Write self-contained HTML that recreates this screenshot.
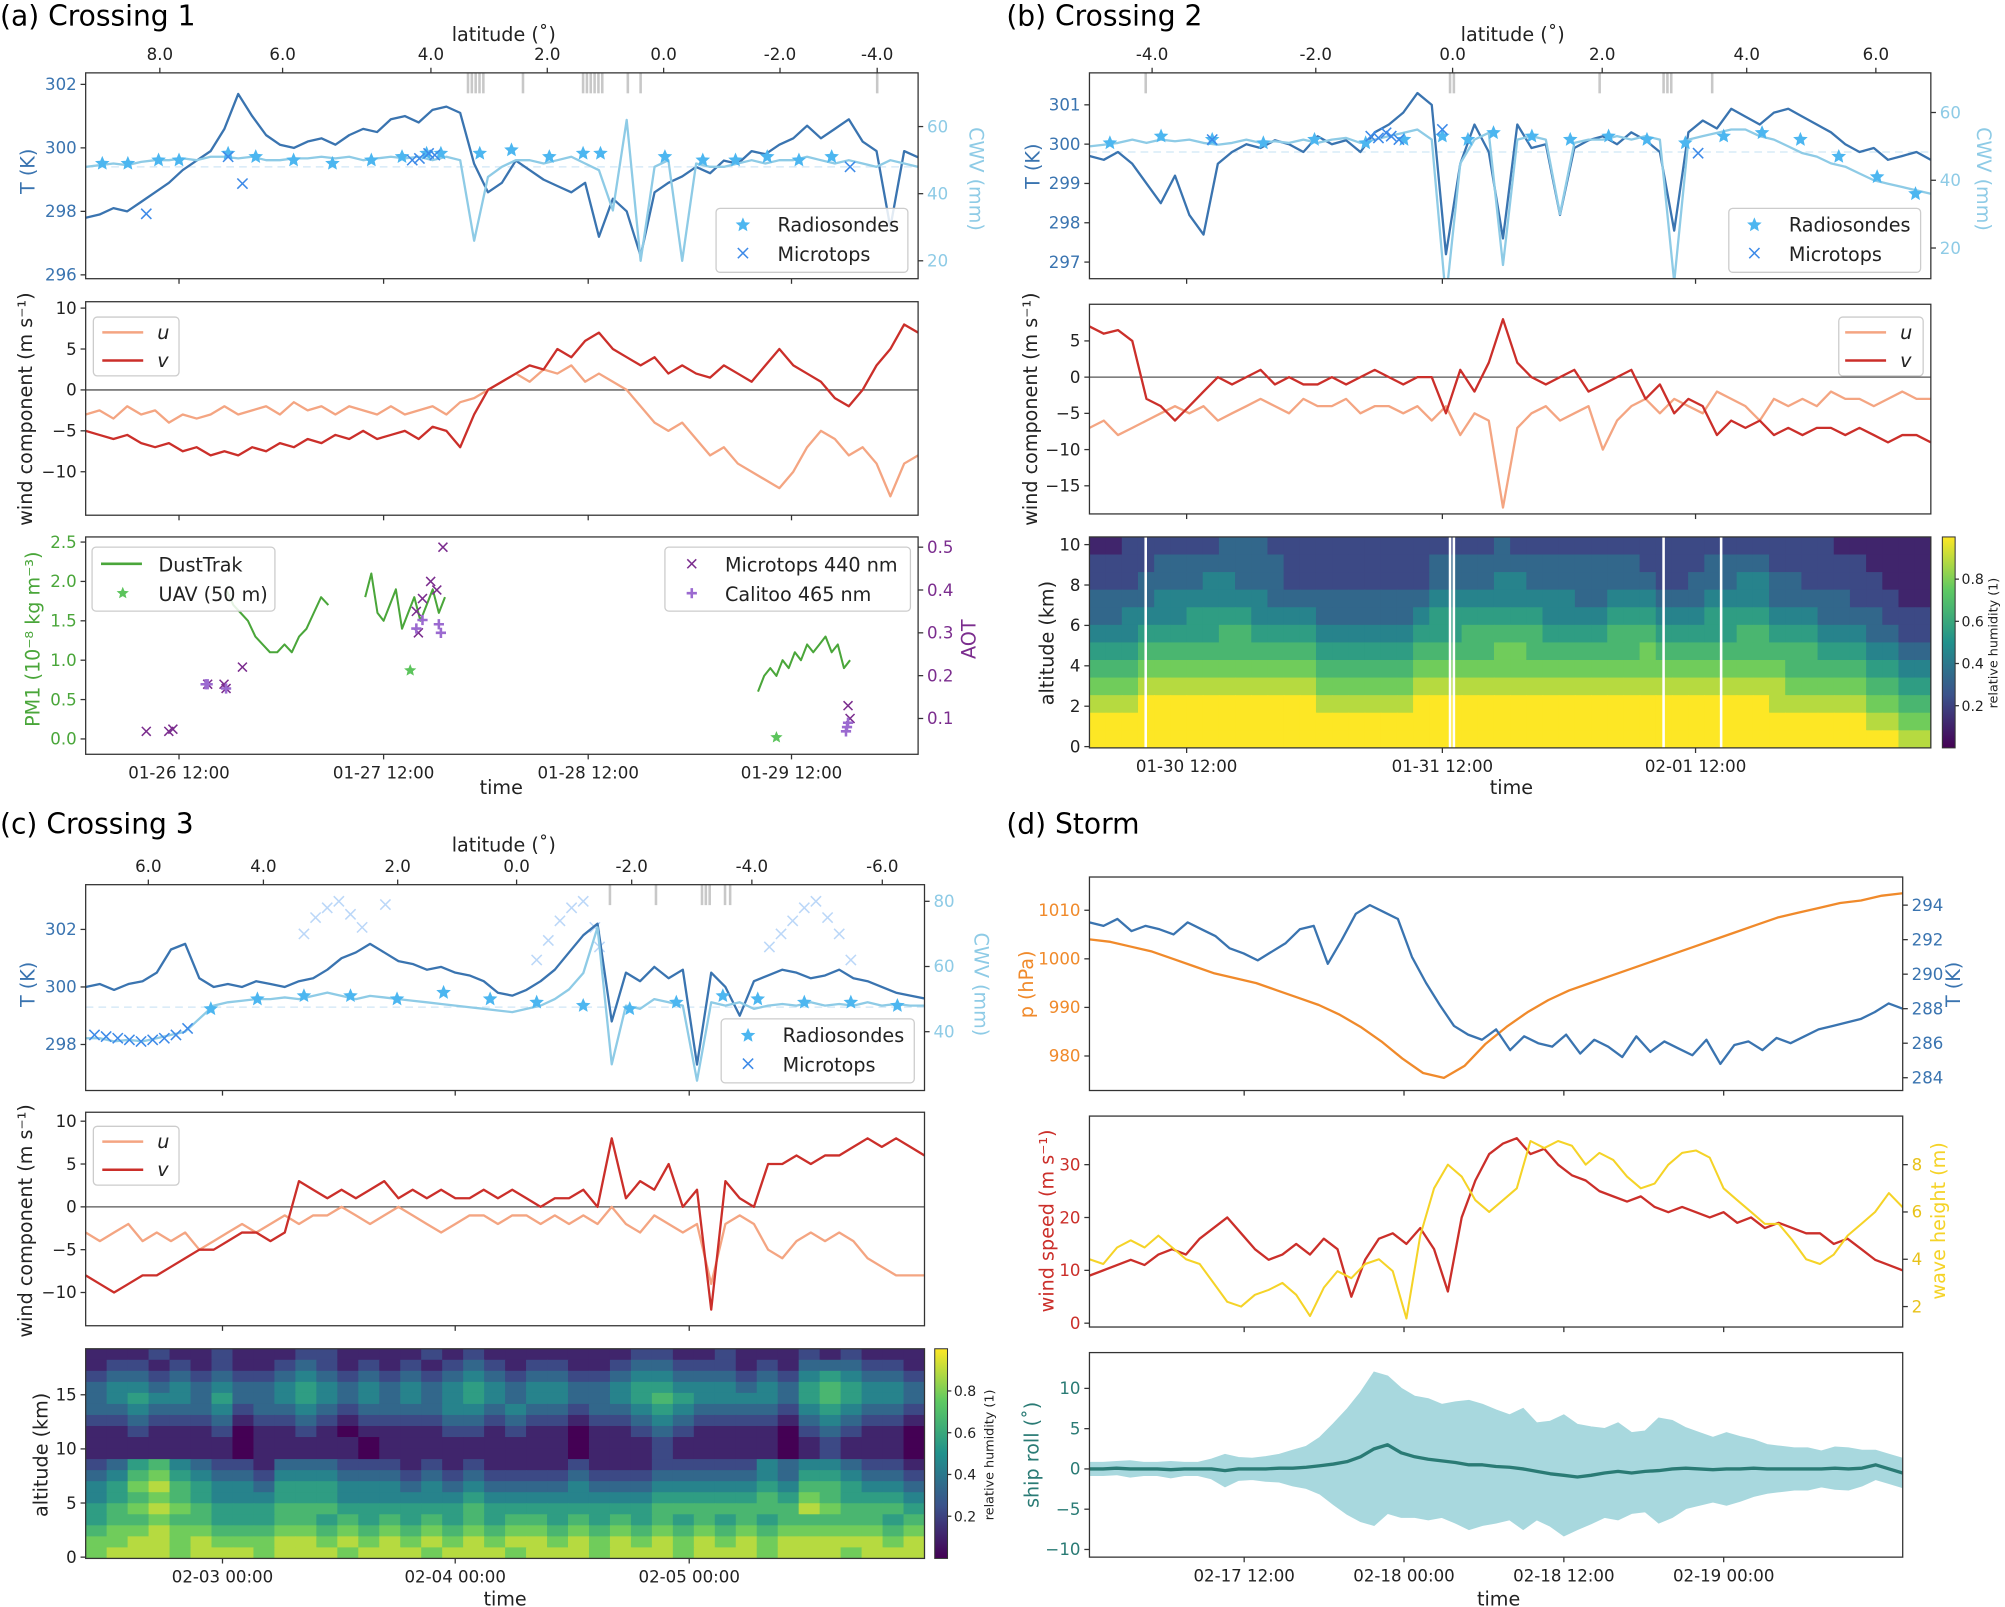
<!DOCTYPE html>
<html><head><meta charset="utf-8"><style>
html,body{margin:0;padding:0;background:#fff;}
svg{display:block;font-family:"DejaVu Sans","Liberation Sans",sans-serif;}
</style></head><body>
<svg id="fig" xmlns="http://www.w3.org/2000/svg" width="2005" height="1607" viewBox="0 0 1568 1257" preserveAspectRatio="none"></svg>
<script>
// ---------------- DATA ----------------
// Panel (a)
const aTemp=[297.8,297.9,298.1,298.0,298.3,298.6,298.9,299.3,299.6,299.9,300.6,301.7,301.0,300.4,300.1,300.0,300.2,300.3,300.1,300.4,300.6,300.5,300.9,301.0,300.8,301.2,301.3,301.1,299.5,298.6,298.9,299.6,299.3,299.0,298.8,298.6,298.9,297.2,298.4,298.0,296.6,298.6,298.9,299.1,299.4,299.2,299.6,299.5,299.9,299.8,300.1,300.3,300.7,300.3,300.6,300.9,300.2,299.9,297.5,299.9,299.7];
const aCwv=[48,48.5,49,48.5,49.5,50,50,50.5,50,51,51,50.5,51,50,50,50.5,50.5,51,50.5,51,50,50.5,51,50.5,51,50,51,50,26,45,48,50,50,49,50,51,49,47,35,62,20,48,50,20,49,48,48,49,50,49,50,50,51,50,49,50,49,48,50,49,48];
const aSondeT=[0.125,0.25,0.4,0.5,0.74,0.875,1.06,1.25,1.44,1.59,1.71,1.78,1.97,2.125,2.31,2.475,2.56,2.875,3.06,3.22,3.375,3.53,3.69];
const aSondeV=[49,49,50,50,52,51,50,49,50,51,52,52,52,53,51,52,52,51,50,50,51,50,51];
const aMtT=[0.34,0.81,0.74,1.64,1.675,1.72,1.75,3.78];
const aMtV=[34,43,51,50,50.5,52,51.5,48];
const aU=[-3,-2.5,-3.5,-2,-3,-2.5,-4,-3,-3.5,-3,-2,-3,-2.5,-2,-3,-1.5,-2.5,-2,-3,-2,-2.5,-3,-2,-3,-2.5,-2,-3,-1.5,-1,0,1,2,1,2.5,2,3,1,2,1,0,-2,-4,-5,-4,-6,-8,-7,-9,-10,-11,-12,-10,-7,-5,-6,-8,-7,-9,-13,-9,-8];
const aV=[-5,-5.5,-6,-5.5,-6.5,-7,-6.5,-7.5,-7,-8,-7.5,-8,-7,-7.5,-6.5,-7,-6,-6.5,-5.5,-6,-5,-6,-5.5,-5,-6,-4.5,-5,-7,-3,0,1,2,3,2.5,5,4,6,7,5,4,3,4,2,3,2,1.5,3,2,1,3,5,3,2,1,-1,-2,0,3,5,8,7];
const aPm1=[1.9,1.7,1.6,1.5,1.3,1.2,1.1,1.1,1.2,1.1,1.3,1.4,1.6,1.8,1.7];
const aPm2=[1.8,2.1,1.6,1.5,1.7,1.9,1.4,1.6,1.8,1.5,1.7,1.9,1.6,1.8];
const aPm3=[0.6,0.8,0.9,0.8,1.0,0.9,1.1,1.0,1.2,1.1,1.2,1.3,1.1,1.2,0.9,1.0];
const aUavT=[1.63,3.42];
const aUavV=[0.87,0.02];
const aAotT=[0.34,0.45,0.47,0.64,0.72,0.73,0.81,1.66,1.67,1.69,1.73,1.76,1.79,3.78,3.77];
const aAotV=[0.07,0.07,0.075,0.18,0.18,0.17,0.22,0.35,0.30,0.38,0.42,0.40,0.50,0.10,0.13];
const aCalT=[0.63,0.64,0.73,1.66,1.69,1.77,1.78,3.76,3.765,3.77];
const aCalV=[0.18,0.18,0.17,0.31,0.33,0.32,0.30,0.07,0.08,0.09];
// Panel (b)
const bTemp=[299.7,299.6,299.8,299.5,299.0,298.5,299.2,298.2,297.7,299.5,299.8,300.0,299.9,300.1,300.0,299.8,300.2,300.0,300.1,299.8,300.3,300.5,300.8,301.3,301.0,297.2,299.5,300.5,299.8,297.6,300.5,299.9,300.0,298.2,299.9,300.1,300.2,300.0,300.3,300.1,299.8,297.8,300.3,300.6,300.4,300.9,300.7,300.5,300.8,300.9,300.7,300.5,300.3,300.0,299.8,299.9,299.6,299.7,299.8,299.6];
const bCwv=[50,50.5,51,52,51,52,51.5,52,51,50.5,51,52,51,51.5,51,52,51,52,52.5,51,52,53,54,55,52,5,45,52,54,15,52,53,52,30,51,52,52,53,52,53,52,10,52,53,54,55,55,53,52,50,48,47,45,44,42,40,39,38,37,36];
const bSondeT=[0.2,0.4,0.6,0.8,1.0,1.2,1.35,1.5,1.6,1.7,1.85,2.0,2.15,2.3,2.45,2.6,2.75,2.9,3.05,3.2,3.35];
const bSondeV=[51,53,52,51,52,51,52,53,52,54,53,52,53,52,51,53,54,52,47,41,36];
const bMtT=[0.6,1.22,1.25,1.28,1.3,1.33,1.5,2.5];
const bMtV=[52,53,52.5,54,53,52,55,48];
const bU=[-7,-6,-8,-7,-6,-5,-4,-5,-4,-6,-5,-4,-3,-4,-5,-3,-4,-4,-3,-5,-4,-4,-5,-4,-6,-4,-8,-5,-6,-18,-7,-5,-4,-6,-5,-4,-10,-6,-4,-3,-5,-3,-4,-5,-2,-3,-4,-6,-3,-4,-3,-4,-2,-3,-3,-4,-3,-2,-3,-3];
const bV=[7,6,6.5,5,-3,-4,-6,-4,-2,0,-1,0,1,-1,0,-1,-1,0,-1,0,1,0,-1,0,0,-5,1,-2,2,8,2,0,-1,0,1,-2,-1,0,1,-3,-1,-5,-3,-4,-8,-6,-7,-6,-8,-7,-8,-7,-7,-8,-7,-8,-9,-8,-8,-9];
const bRh=[
"1122222233322222222222222322222222222222222222111111",
"2222333333332222222223333333333333222233332222221111",
"2223333443332222222223333443333333322333443322222111",
"3333444444433333333334444444443344433344443333322211",
"3344445555444433333345555555444455544455554443333222",
"4445555566555544444455566666555566655555665554443322",
"5556666666666655555566666776666666766666666665554433",
"6667777777777766666677777777777777777777777666665544",
"7778888888888877777788888888888888888888888777776655",
"8889999999999988888899999999999999999999998888887766",
"9999999999999999999999999999999999999999999999998877",
"9999999999999999999999999999999999999999999999999988"];
// Panel (c)
const cTemp=[300,300.1,299.9,300.1,300.2,300.5,301.3,301.5,300.3,300.0,300.1,300.0,300.2,300.1,300.0,300.2,300.3,300.6,301.0,301.2,301.5,301.2,300.9,300.8,300.6,300.7,300.5,300.4,300.2,299.8,299.7,299.9,300.2,300.6,301.2,301.8,302.2,298.8,300.5,300.2,300.7,300.3,300.6,297.3,300.5,300.0,299.0,300.2,300.4,300.6,300.5,300.3,300.4,300.6,300.3,300.2,300.0,299.8,299.7,299.6];
const cCwv=[38,38,37,37.5,37,38,39,40,44,48,49,49.5,50,50,50.5,50,51,52,51,50,51,50.5,50,49.5,49,48.5,48,47.5,47,46.5,46,47,48,50,53,58,72,30,48,47,50,49,48,25,49,48,49,47,48,48.5,48,49,48,48.5,48,49,48,48.5,48,48];
const cSondeT=[-0.05,0.15,0.35,0.55,0.75,0.95,1.15,1.35,1.55,1.75,1.95,2.15,2.3,2.5,2.7,2.9];
const cSondeV=[47,50,51,51,50,52,50,49,48,47,49,51,50,49,49,48];
const cMtT=[-0.55,-0.5,-0.45,-0.4,-0.35,-0.3,-0.25,-0.2,-0.15];
const cMtV=[39,38.5,38,37.5,37,37.5,38,39,41];
const cMtFadeT=[0.35,0.4,0.45,0.5,0.55,0.6,0.7,1.35,1.4,1.45,1.5,1.55,1.6,1.62,2.35,2.4,2.45,2.5,2.55,2.6,2.65,2.7];
const cMtFadeV=[70,75,78,80,76,72,79,62,68,74,78,80,72,66,66,70,74,78,80,75,70,62];
const cU=[-3,-4,-3,-2,-4,-3,-4,-3,-5,-4,-3,-2,-3,-2,-1,-2,-1,-1,0,-1,-2,-1,0,-1,-2,-3,-2,-1,-1,-2,-1,-1,-2,-1,-2,-1,-2,0,-2,-3,-1,-2,-3,-2,-9,-2,-1,-2,-5,-6,-4,-3,-4,-3,-4,-6,-7,-8,-8,-8];
const cV=[-8,-9,-10,-9,-8,-8,-7,-6,-5,-5,-4,-3,-3,-4,-3,3,2,1,2,1,2,3,1,2,1,2,1,1,2,1,2,1,0,1,1,2,0,8,1,3,2,5,0,2,-12,3,1,0,5,5,6,5,6,6,7,8,7,8,7,6];
const cRh=[
"1112112111221111212111111122112111212111",
"1221212112321212123212211233222121333221",
"2332323223432323234323322344333232454332",
"3443434334543434345434433455444343565443",
"3454435334543434345434433456544443565443",
"3343334233432333344343323345433332454332",
"2232223122321222233232212234322221343221",
"1121112011210111122121101123211110232110",
"1111111011111011111111101112111110121110",
"1111111011111011111111101112111110121110",
"2356432213332221212111121112222243443221",
"3467543324443332323222232223333343554332",
"4578654435554443434333343334444454665443",
"4567654445554444445444444445555565765554",
"5678765556665555556555555556666666876665",
"5667665556656565656566565656565656666656",
"6778776667767676767677676767676767777767",
"7788787778878787878788787878787878888878",
"7888788878887888788878887888788878887888"];
// Panel (d)
const dP=[1004,1003.5,1002.5,1001.5,1000,998.5,997,996,995,993.5,992,990.5,988.5,986,983,979.5,976.5,975.5,978,982.5,986,989,991.5,993.5,995,996.5,998,999.5,1001,1002.5,1004,1005.5,1007,1008.5,1009.5,1010.5,1011.5,1012,1013,1013.5];
const dT=[293,292.8,293.2,292.5,292.8,292.6,292.3,293,292.6,292.2,291.5,291.2,290.8,291.3,291.8,292.6,292.8,290.6,292,293.5,294,293.6,293.2,291,289.5,288.2,287,286.5,286.2,286.8,285.6,286.4,286,285.8,286.5,285.4,286.2,285.8,285.2,286.4,285.5,286.1,285.7,285.3,286.2,284.8,285.9,286.1,285.6,286.3,286,286.4,286.8,287,287.2,287.4,287.8,288.3,288];
const dWind=[9,10,11,12,11,13,14,13,16,18,20,17,14,12,13,15,13,16,14,5,12,16,17,15,18,14,6,20,27,32,34,35,32,33,30,28,27,25,24,23,24,22,21,22,21,20,21,19,20,18,19,18,17,17,15,16,14,12,11,10];
const dWave=[4,3.8,4.5,4.8,4.5,5,4.5,4,3.8,3,2.2,2,2.5,2.7,3,2.5,1.6,2.8,3.5,3.2,3.8,4,3.5,1.5,5,7,8,7.5,6.5,6,6.5,7,9,8.7,9,8.8,8,8.5,8.2,7.5,7,7.2,8,8.5,8.6,8.3,7,6.5,6,5.5,5.5,4.8,4,3.8,4.2,5,5.5,6,6.8,6.2];
const dRollMean=[0,0,0.1,0,0,0,-0.1,0,0,0,-0.2,0,0,0,0.1,0.1,0.2,0.4,0.6,0.9,1.5,2.5,3,2,1.5,1.2,1,0.8,0.5,0.5,0.3,0.2,0,-0.3,-0.6,-0.8,-1,-0.8,-0.5,-0.3,-0.5,-0.3,-0.2,0,0.1,0,-0.1,0,0,0.1,0,0,0,0,0,0.1,0,0.1,0.5,0,-0.5];
const dRollAmp=[0.8,0.8,0.8,1,0.8,0.8,1,0.8,0.8,1.2,2,1.4,1.3,1.5,1.7,2.2,2.6,3.5,5,6.5,8,9.5,8.5,8,7.5,7.5,7,7.5,8,7.5,7,6.5,7.5,6,6.5,7.5,6.5,6,5.5,6,5,5,6.5,6,5,4.5,4,4.5,4,3.5,3,2.8,2.6,2.6,2.2,2.6,2.6,2.2,1.8,1.8,1.8];

// ---------------- DRAWING ----------------
const NS='http://www.w3.org/2000/svg';
const svg=document.getElementById('fig');
function mk(tag,attrs,name,parent){
  const e=document.createElementNS(NS,tag);
  for(const k in attrs) e.setAttribute(k,attrs[k]);
  
  
  (parent||svg).appendChild(e);
  return e;
}
function txt(x,y,s,name,o){
  o=o||{};
  const a={x:x,y:y,'font-size':o.fs||13,fill:o.fill||'#222','text-anchor':o.anchor||'middle'};
  if(o.rot!==undefined) a.transform='rotate('+o.rot+' '+x+' '+y+')';
  if(o.style) a['font-style']=o.style;
  const t=mk('text',a,name);
  t.textContent=s;
  return t;
}
function lin(v0,p0,v1,p1){return v=>p0+(v-v0)*(p1-p0)/(v1-v0);}
let clipN=0;
function clip(b){
  const id='c'+(clipN++);
  const cp=mk('clipPath',{id:id},'clip');
  mk('rect',{x:b.x0,y:b.y0,width:b.x1-b.x0,height:b.y1-b.y0},'clip-rect',cp);
  return mk('g',{'clip-path':'url(#'+id+')'},'plot-area');
}
function frame(b,name){mk('rect',{x:b.x0,y:b.y0,width:b.x1-b.x0,height:b.y1-b.y0,fill:'none',stroke:'#333','stroke-width':1},name);}
function yTicks(b,sc,vals,labels,side,color,name){
  vals.forEach((v,i)=>{
    const y=sc(v);
    const x=side==='l'?b.x0:b.x1;
    const d=side==='l'?-4:4;
    mk('line',{x1:x,x2:x+d,y1:y,y2:y,stroke:'#333'},name+'-tick');
    txt(x+(side==='l'?-7:7),y+4.5,labels[i],name+'-label',{fill:color,anchor:side==='l'?'end':'start'});
  });
}
function xTicks(b,xs,labels,name,top){
  xs.forEach((x,i)=>{
    const y=top?b.y0:b.y1;
    mk('line',{x1:x,x2:x,y1:y,y2:y+(top?-4:4),stroke:'#333'},name+'-tick');
    if(labels[i]!=='') txt(x,top?y-10:y+19,labels[i],name+'-label');
  });
}
function series(g,vals,xa,xb,sc,color,w,name){
  const n=vals.length;
  const pts=vals.map((v,i)=>(xa+i*(xb-xa)/(n-1)).toFixed(1)+','+sc(v).toFixed(1)).join(' ');
  mk('polyline',{points:pts,fill:'none',stroke:color,'stroke-width':w,'stroke-linejoin':'round'},name,g);
}
function star(g,x,y,r,color,name){
  let p=[];
  for(let k=0;k<10;k++){const a=-Math.PI/2+k*Math.PI/5;const rr=k%2?r*0.45:r;p.push((x+rr*Math.cos(a)).toFixed(1)+','+(y+rr*Math.sin(a)).toFixed(1));}
  mk('polygon',{points:p.join(' '),fill:color},name,g);
}
function cross(g,x,y,r,color,name,op){
  mk('path',{d:`M${x-r},${y-r}L${x+r},${y+r}M${x-r},${y+r}L${x+r},${y-r}`,stroke:color,'stroke-width':1.2,opacity:op||1},name,g);
}
function plus(g,x,y,r,color,name){
  mk('path',{d:`M${x-r},${y}L${x+r},${y}M${x},${y-r}L${x},${y+r}`,stroke:color,'stroke-width':2},name,g);
}
function legendBox(x,y,w,h,name){mk('rect',{x:x,y:y,width:w,height:h,rx:3,fill:'#fff','fill-opacity':0.85,stroke:'#ccc'},name);}
const stops=[[0,[68,1,84]],[0.25,[59,82,139]],[0.5,[33,145,140]],[0.75,[94,201,98]],[1,[253,231,37]]];
function viridis(v){
  for(let i=1;i<stops.length;i++){if(v<=stops[i][0]){const a=stops[i-1],b=stops[i];const f=(v-a[0])/(b[0]-a[0]);return 'rgb('+a[1].map((c,j)=>Math.round(c+(b[1][j]-c)*f)).join(',')+')';}}
  return 'rgb(253,231,37)';
}
const defs=mk('defs',{},'defs');
const lg=mk('linearGradient',{id:'vir',x1:0,y1:1,x2:0,y2:0},'viridis-gradient',defs);
stops.forEach(s=>mk('stop',{offset:s[0],'stop-color':'rgb('+s[1].join(',')+')'},'gradient-stop',lg));
function heat(b,rows,name){
  const g=clip(b);
  const nr=rows.length,nc=rows[0].length;
  const cw=(b.x1-b.x0)/nc,ch=(b.y1-b.y0)/nr;
  rows.forEach((r,ri)=>{for(let ci=0;ci<nc;ci++){
    mk('rect',{x:(b.x0+ci*cw).toFixed(2),y:(b.y0+ri*ch).toFixed(2),width:(cw+0.6).toFixed(2),height:(ch+0.6).toFixed(2),fill:viridis(+r[ci]/9)},name+'-cell',g);
  }});
  return g;
}
function colorbar(x,y0,y1,sc,name,lx,ly){
  mk('rect',{x:x,y:y0,width:10,height:y1-y0,fill:'url(#vir)',stroke:'#333','stroke-width':0.8},name);
  [0.2,0.4,0.6,0.8].forEach(v=>{const y=sc(v);mk('line',{x1:x+10,x2:x+13,y1:y,y2:y,stroke:'#333'},name+'-tick');txt(x+15,y+4,v.toFixed(1),name+'-label',{fs:11,anchor:'start'});});
  txt(lx,ly,'relative humidity (1)',name+'-title',{fs:10,rot:-90});
}
const CT='#3a74b0',CC='#8ecbe6',CS='#4cb6f0',CX='#3d8ae8',CU='#f4a582',CV='#cb2f2a';

// ===== Panel (a) =====
txt(0,20,'(a) Crossing 1','panel-a-title',{fs:22,anchor:'start',fill:'#000'});
const A1={x0:67,x1:718,y0:57,y1:218};
const aTa=lin(296,215,302,66),aCa=lin(20,204,60,99);
const aTime=t=>140+(t-0.5)*160;
txt(394,32,'latitude (˚)','panel-a-lat-title',{fs:15});
xTicks(A1,[125,221,337,428,519,610,686],['8.0','6.0','4.0','2.0','0.0','-2.0','-4.0'],'panel-a-lat',true);
let g=clip(A1);
[365,368,371,374,377,408,455,458,461,464,467,470,490,500,685].forEach(x=>mk('rect',{x:x,y:57,width:2,height:16,fill:'#c8c8c8'},'gap-marker',g));
mk('line',{x1:67,x2:718,y1:aTa(299.4),y2:aTa(299.4),stroke:'#cfe6f5','stroke-dasharray':'6,4'},'mean-line',g);
series(g,aTemp,A1.x0,A1.x1,aTa,CT,1.8,'temperature-line');
series(g,aCwv,A1.x0,A1.x1,aCa,CC,1.8,'cwv-line');
aSondeT.forEach((t,i)=>star(g,aTime(t),aCa(aSondeV[i]),6,CS,'radiosonde-marker'));
aMtT.forEach((t,i)=>cross(g,aTime(t),aCa(aMtV[i]),4,CX,'microtops-marker'));
frame(A1,'panel-a-top-frame');
yTicks(A1,aTa,[296,298,300,302],['296','298','300','302'],'l',CT,'temp-axis');
yTicks(A1,aCa,[20,40,60],['20','40','60'],'r',CC,'cwv-axis');
xTicks(A1,[140,300,460,619],['','','',''],'panel-a-top-time',false);
txt(27,134,'T (K)','temp-axis-title',{fs:15,rot:-90,fill:CT});
txt(758,140,'CWV (mm)','cwv-axis-title',{fs:15,rot:90,fill:CC});
legendBox(560,163,150,50,'legend-a-top');
star(svg,581,176,6,CS,'legend-radiosonde-marker');txt(608,181,'Radiosondes','legend-radiosondes-label',{fs:15,anchor:'start'});
cross(svg,581,198,4,CX,'legend-microtops-marker');txt(608,204,'Microtops','legend-microtops-label',{fs:15,anchor:'start'});

const A2={x0:67,x1:718,y0:236,y1:403};
const aW=lin(0,305,10,241);
g=clip(A2);
mk('line',{x1:67,x2:718,y1:aW(0),y2:aW(0),stroke:'#555','stroke-width':1},'zero-line',g);
series(g,aU,A2.x0,A2.x1,aW,CU,1.8,'u-line');
series(g,aV,A2.x0,A2.x1,aW,CV,1.8,'v-line');
frame(A2,'panel-a-mid-frame');
yTicks(A2,aW,[-10,-5,0,5,10],['−10','−5','0','5','10'],'l','#222','wind-axis');
xTicks(A2,[140,300,460,619],['','','',''],'panel-a-mid-time',false);
txt(25,320,'wind component (m s⁻¹)','wind-axis-title',{fs:15,rot:-90});
legendBox(73,248,67,46,'legend-a-wind');
mk('line',{x1:80,x2:112,y1:260,y2:260,stroke:CU,'stroke-width':2},'legend-u-line');txt(123,265,'u','legend-u-label',{fs:15,anchor:'start',style:'italic'});
mk('line',{x1:80,x2:112,y1:282,y2:282,stroke:CV,'stroke-width':2},'legend-v-line');txt(123,287,'v','legend-v-label',{fs:15,anchor:'start',style:'italic'});

const A3={x0:67,x1:718,y0:420,y1:590};
const aPm=lin(0,578,2.5,424),aAot=lin(0.1,562,0.5,428);
g=clip(A3);
const CG='#4aa63a',CPu='#7b2d8e',CPl='#9b6ad0';
series(g,aPm1,aTime(0.73),aTime(1.23),aPm,CG,1.6,'dusttrak-line');
series(g,aPm2,aTime(1.41),aTime(1.8),aPm,CG,1.6,'dusttrak-line');
series(g,aPm3,aTime(3.33),aTime(3.78),aPm,CG,1.6,'dusttrak-line');
aUavT.forEach((t,i)=>star(g,aTime(t),aPm(aUavV[i]),5,'#5cc45c','uav-marker'));
aAotT.forEach((t,i)=>cross(g,aTime(t),aAot(aAotV[i]),3.5,CPu,'microtops-aot-marker'));
aCalT.forEach((t,i)=>plus(g,aTime(t),aAot(aCalV[i]),4,CPl,'calitoo-marker'));
frame(A3,'panel-a-bottom-frame');
yTicks(A3,aPm,[0,0.5,1,1.5,2,2.5],['0.0','0.5','1.0','1.5','2.0','2.5'],'l',CG,'pm1-axis');
yTicks(A3,aAot,[0.1,0.2,0.3,0.4,0.5],['0.1','0.2','0.3','0.4','0.5'],'r',CPu,'aot-axis');
xTicks(A3,[140,300,460,619],['01-26 12:00','01-27 12:00','01-28 12:00','01-29 12:00'],'panel-a-time',false);
txt(392,621,'time','panel-a-time-title',{fs:15});
txt(31,500,'PM1 (10⁻⁸ kg m⁻³)','pm1-axis-title',{fs:15,rot:-90,fill:CG});
txt(763,500,'AOT','aot-axis-title',{fs:15,rot:-90,fill:CPu});
legendBox(72,428,143,50,'legend-a-dust');
mk('line',{x1:79,x2:111,y1:441,y2:441,stroke:CG,'stroke-width':2},'legend-dusttrak-line');txt(124,447,'DustTrak','legend-dusttrak-label',{fs:15,anchor:'start'});
star(svg,96,464,5,'#5cc45c','legend-uav-marker');txt(124,470,'UAV (50 m)','legend-uav-label',{fs:15,anchor:'start'});
legendBox(520,428,192,50,'legend-a-aot');
cross(svg,541,441,3.5,CPu,'legend-microtops440-marker');txt(567,447,'Microtops 440 nm','legend-microtops440-label',{fs:15,anchor:'start'});
plus(svg,541,464,4,CPl,'legend-calitoo-marker');txt(567,470,'Calitoo 465 nm','legend-calitoo-label',{fs:15,anchor:'start'});

// ===== Panel (b) =====
txt(787,20,'(b) Crossing 2','panel-b-title',{fs:22,anchor:'start',fill:'#000'});
const B1={x0:852,x1:1510,y0:57,y1:218};
const bTa=lin(297,205,301,82),bCa=lin(20,194,60,88);
const bTime=t=>928+(t-0.5)*200;
txt(1183,32,'latitude (˚)','panel-b-lat-title',{fs:15});
xTicks(B1,[901,1029,1136,1253,1366,1467],['-4.0','-2.0','0.0','2.0','4.0','6.0'],'panel-b-lat',true);
g=clip(B1);
[895,1133,1136,1250,1300,1303,1306,1338].forEach(x=>mk('rect',{x:x,y:57,width:2,height:16,fill:'#c8c8c8'},'gap-marker',g));
mk('line',{x1:852,x2:1510,y1:bTa(299.8),y2:bTa(299.8),stroke:'#cfe6f5','stroke-dasharray':'6,4'},'mean-line',g);
series(g,bTemp,B1.x0,B1.x1,bTa,CT,1.8,'temperature-line');
series(g,bCwv,B1.x0,B1.x1,bCa,CC,1.8,'cwv-line');
bSondeT.forEach((t,i)=>star(g,bTime(t),bCa(bSondeV[i]),6,CS,'radiosonde-marker'));
bMtT.forEach((t,i)=>cross(g,bTime(t),bCa(bMtV[i]),4,CX,'microtops-marker'));
frame(B1,'panel-b-top-frame');
yTicks(B1,bTa,[297,298,299,300,301],['297','298','299','300','301'],'l',CT,'temp-axis');
yTicks(B1,bCa,[20,40,60],['20','40','60'],'r',CC,'cwv-axis');
xTicks(B1,[928,1128,1326],['','',''],'panel-b-top-time',false);
txt(813,130,'T (K)','temp-axis-title',{fs:15,rot:-90,fill:CT});
txt(1546,140,'CWV (mm)','cwv-axis-title',{fs:15,rot:90,fill:CC});
legendBox(1352,163,150,50,'legend-b-top');
star(svg,1372,176,6,CS,'legend-radiosonde-marker');txt(1399,181,'Radiosondes','legend-radiosondes-label',{fs:15,anchor:'start'});
cross(svg,1372,198,4,CX,'legend-microtops-marker');txt(1399,204,'Microtops','legend-microtops-label',{fs:15,anchor:'start'});

const B2={x0:852,x1:1510,y0:238,y1:402};
const bW=lin(0,295,-15,380);
g=clip(B2);
mk('line',{x1:852,x2:1510,y1:bW(0),y2:bW(0),stroke:'#555'},'zero-line',g);
series(g,bU,B2.x0,B2.x1,bW,CU,1.8,'u-line');
series(g,bV,B2.x0,B2.x1,bW,CV,1.8,'v-line');
frame(B2,'panel-b-mid-frame');
yTicks(B2,bW,[-15,-10,-5,0,5],['−15','−10','−5','0','5'],'l','#222','wind-axis');
xTicks(B2,[928,1128,1326],['','',''],'panel-b-mid-time',false);
txt(811,320,'wind component (m s⁻¹)','wind-axis-title',{fs:15,rot:-90});
legendBox(1438,248,66,46,'legend-b-wind');
mk('line',{x1:1443,x2:1475,y1:260,y2:260,stroke:CU,'stroke-width':2},'legend-u-line');txt(1486,265,'u','legend-u-label',{fs:15,anchor:'start',style:'italic'});
mk('line',{x1:1443,x2:1475,y1:282,y2:282,stroke:CV,'stroke-width':2},'legend-v-line');txt(1486,287,'v','legend-v-label',{fs:15,anchor:'start',style:'italic'});

const B3={x0:852,x1:1510,y0:420,y1:585};
const bAlt=lin(0,584,10,426);
g=heat(B3,bRh,'rh-b');
[895,1133,1136,1300,1345].forEach(x=>mk('rect',{x:x,y:420,width:2,height:165,fill:'#fff'},'missing-column',g));
frame(B3,'panel-b-heat-frame');
yTicks(B3,bAlt,[0,2,4,6,8,10],['0','2','4','6','8','10'],'l','#222','altitude-axis');
xTicks(B3,[928,1128,1326],['01-30 12:00','01-31 12:00','02-01 12:00'],'panel-b-time',false);
txt(1182,621,'time','panel-b-time-title',{fs:15});
txt(824,503,'altitude (km)','altitude-axis-title',{fs:15,rot:-90});
colorbar(1519,420,585,lin(0.2,552,0.8,453),'colorbar-b',1562,503);

// ===== Panel (c) =====
txt(0,652,'(c) Crossing 3','panel-c-title',{fs:22,anchor:'start',fill:'#000'});
const C1={x0:67,x1:723,y0:692,y1:853};
const cTa=lin(298,817,302,727),cCa=lin(40,807,80,705);
const cTime=t=>174+t*182;
txt(394,666,'latitude (˚)','panel-c-lat-title',{fs:15});
xTicks(C1,[116,206,311,404,494,588,690],['6.0','4.0','2.0','0.0','-2.0','-4.0','-6.0'],'panel-c-lat',true);
g=clip(C1);
[476,512,548,551,554,566,570].forEach(x=>mk('rect',{x:x,y:692,width:2,height:16,fill:'#c8c8c8'},'gap-marker',g));
mk('line',{x1:67,x2:723,y1:cTa(299.3),y2:cTa(299.3),stroke:'#cfe6f5','stroke-dasharray':'6,4'},'mean-line',g);
cMtFadeT.forEach((t,i)=>cross(g,cTime(t),cCa(cMtFadeV[i]),4,'#6aa8f0','microtops-faded-marker',0.45));
series(g,cTemp,C1.x0,C1.x1,cTa,CT,1.8,'temperature-line');
series(g,cCwv,C1.x0,C1.x1,cCa,CC,1.8,'cwv-line');
cSondeT.forEach((t,i)=>star(g,cTime(t),cCa(cSondeV[i]),6,CS,'radiosonde-marker'));
cMtT.forEach((t,i)=>cross(g,cTime(t),cCa(cMtV[i]),4,CX,'microtops-marker'));
frame(C1,'panel-c-top-frame');
yTicks(C1,cTa,[298,300,302],['298','300','302'],'l',CT,'temp-axis');
yTicks(C1,cCa,[40,60,80],['40','60','80'],'r',CC,'cwv-axis');
xTicks(C1,[174,356,539],['','',''],'panel-c-top-time',false);
txt(27,770,'T (K)','temp-axis-title',{fs:15,rot:-90,fill:CT});
txt(762,770,'CWV (mm)','cwv-axis-title',{fs:15,rot:90,fill:CC});
legendBox(564,797,151,50,'legend-c-top');
star(svg,585,810,6,CS,'legend-radiosonde-marker');txt(612,815,'Radiosondes','legend-radiosondes-label',{fs:15,anchor:'start'});
cross(svg,585,832,4,CX,'legend-microtops-marker');txt(612,838,'Microtops','legend-microtops-label',{fs:15,anchor:'start'});

const C2={x0:67,x1:723,y0:870,y1:1037};
const cW=lin(0,944,10,877);
g=clip(C2);
mk('line',{x1:67,x2:723,y1:cW(0),y2:cW(0),stroke:'#555'},'zero-line',g);
series(g,cU,C2.x0,C2.x1,cW,CU,1.8,'u-line');
series(g,cV,C2.x0,C2.x1,cW,CV,1.8,'v-line');
frame(C2,'panel-c-mid-frame');
yTicks(C2,cW,[-10,-5,0,5,10],['−10','−5','0','5','10'],'l','#222','wind-axis');
xTicks(C2,[174,356,539],['','',''],'panel-c-mid-time',false);
txt(25,955,'wind component (m s⁻¹)','wind-axis-title',{fs:15,rot:-90});
legendBox(73,881,67,46,'legend-c-wind');
mk('line',{x1:80,x2:112,y1:893,y2:893,stroke:CU,'stroke-width':2},'legend-u-line');txt(123,898,'u','legend-u-label',{fs:15,anchor:'start',style:'italic'});
mk('line',{x1:80,x2:112,y1:915,y2:915,stroke:CV,'stroke-width':2},'legend-v-line');txt(123,920,'v','legend-v-label',{fs:15,anchor:'start',style:'italic'});

const C3={x0:67,x1:723,y0:1055,y1:1219};
const cAlt=lin(0,1218,15,1091);
g=heat(C3,cRh,'rh-c');
frame(C3,'panel-c-heat-frame');
yTicks(C3,cAlt,[0,5,10,15],['0','5','10','15'],'l','#222','altitude-axis');
xTicks(C3,[174,356,539],['02-03 00:00','02-04 00:00','02-05 00:00'],'panel-c-time',false);
txt(395,1256,'time','panel-c-time-title',{fs:15});
txt(37,1138,'altitude (km)','altitude-axis-title',{fs:15,rot:-90});
colorbar(731,1055,1219,lin(0.2,1186,0.8,1088),'colorbar-c',777,1138);

// ===== Panel (d) =====
txt(787,652,'(d) Storm','panel-d-title',{fs:22,anchor:'start',fill:'#000'});
const D1={x0:852,x1:1488,y0:686,y1:853};
const dPa=lin(980,826,1010,712),dTa=lin(284,843,294,708);
const COr='#f08a2b',CY='#f5d327',CTe='#2a7b75',CTl='#a8d8de';
g=clip(D1);
series(g,dP,D1.x0,D1.x1,dPa,COr,1.8,'pressure-line');
series(g,dT,D1.x0,D1.x1,dTa,CT,1.8,'temperature-line');
frame(D1,'panel-d-top-frame');
yTicks(D1,dPa,[980,990,1000,1010],['980','990','1000','1010'],'l',COr,'pressure-axis');
yTicks(D1,dTa,[284,286,288,290,292,294],['284','286','288','290','292','294'],'r',CT,'temp-axis');
xTicks(D1,[973,1098,1223,1348],['','','',''],'panel-d-top-time',false);
txt(808,770,'p (hPa)','pressure-axis-title',{fs:15,rot:-90,fill:COr});
txt(1533,770,'T (K)','temp-axis-title',{fs:15,rot:-90,fill:CT});

const D2={x0:852,x1:1488,y0:873,y1:1038};
const dWs=lin(0,1035,30,911),dWh=lin(2,1022,8,911);
g=clip(D2);
series(g,dWind,D2.x0,D2.x1,dWs,'#cb2f2a',1.8,'wind-speed-line');
series(g,dWave,D2.x0,D2.x1,dWh,CY,1.6,'wave-height-line');
frame(D2,'panel-d-mid-frame');
yTicks(D2,dWs,[0,10,20,30],['0','10','20','30'],'l','#cb2f2a','wind-speed-axis');
yTicks(D2,dWh,[2,4,6,8],['2','4','6','8'],'r','#e8c21a','wave-axis');
xTicks(D2,[973,1098,1223,1348],['','','',''],'panel-d-mid-time',false);
txt(824,955,'wind speed (m s⁻¹)','wind-speed-axis-title',{fs:15,rot:-90,fill:'#cb2f2a'});
txt(1521,955,'wave height (m)','wave-axis-title',{fs:15,rot:-90,fill:CY});

const D3={x0:852,x1:1488,y0:1058,y1:1218};
const dR=lin(0,1149,10,1086);
g=clip(D3);
{
  const n=dRollMean.length;const xs=i=>D3.x0+i*(D3.x1-D3.x0)/(n-1);
  let up=[],dn=[];
  for(let i=0;i<n;i++){up.push(xs(i).toFixed(1)+','+dR(dRollMean[i]+dRollAmp[i]).toFixed(1));dn.unshift(xs(i).toFixed(1)+','+dR(dRollMean[i]-dRollAmp[i]).toFixed(1));}
  mk('polygon',{points:up.concat(dn).join(' '),fill:CTl,stroke:CTl,'stroke-width':1},'roll-envelope',g);
}
series(g,dRollMean,D3.x0,D3.x1,dR,CTe,2.6,'roll-mean-line');
frame(D3,'panel-d-bottom-frame');
yTicks(D3,dR,[-10,-5,0,5,10],['−10','−5','0','5','10'],'l',CTe,'roll-axis');
xTicks(D3,[973,1098,1223,1348],['02-17 12:00','02-18 00:00','02-18 12:00','02-19 00:00'],'panel-d-time',false);
txt(1172,1256,'time','panel-d-time-title',{fs:15});
txt(812,1138,'ship roll (˚)','roll-axis-title',{fs:15,rot:-90,fill:CTe});
</script>
</body></html>
